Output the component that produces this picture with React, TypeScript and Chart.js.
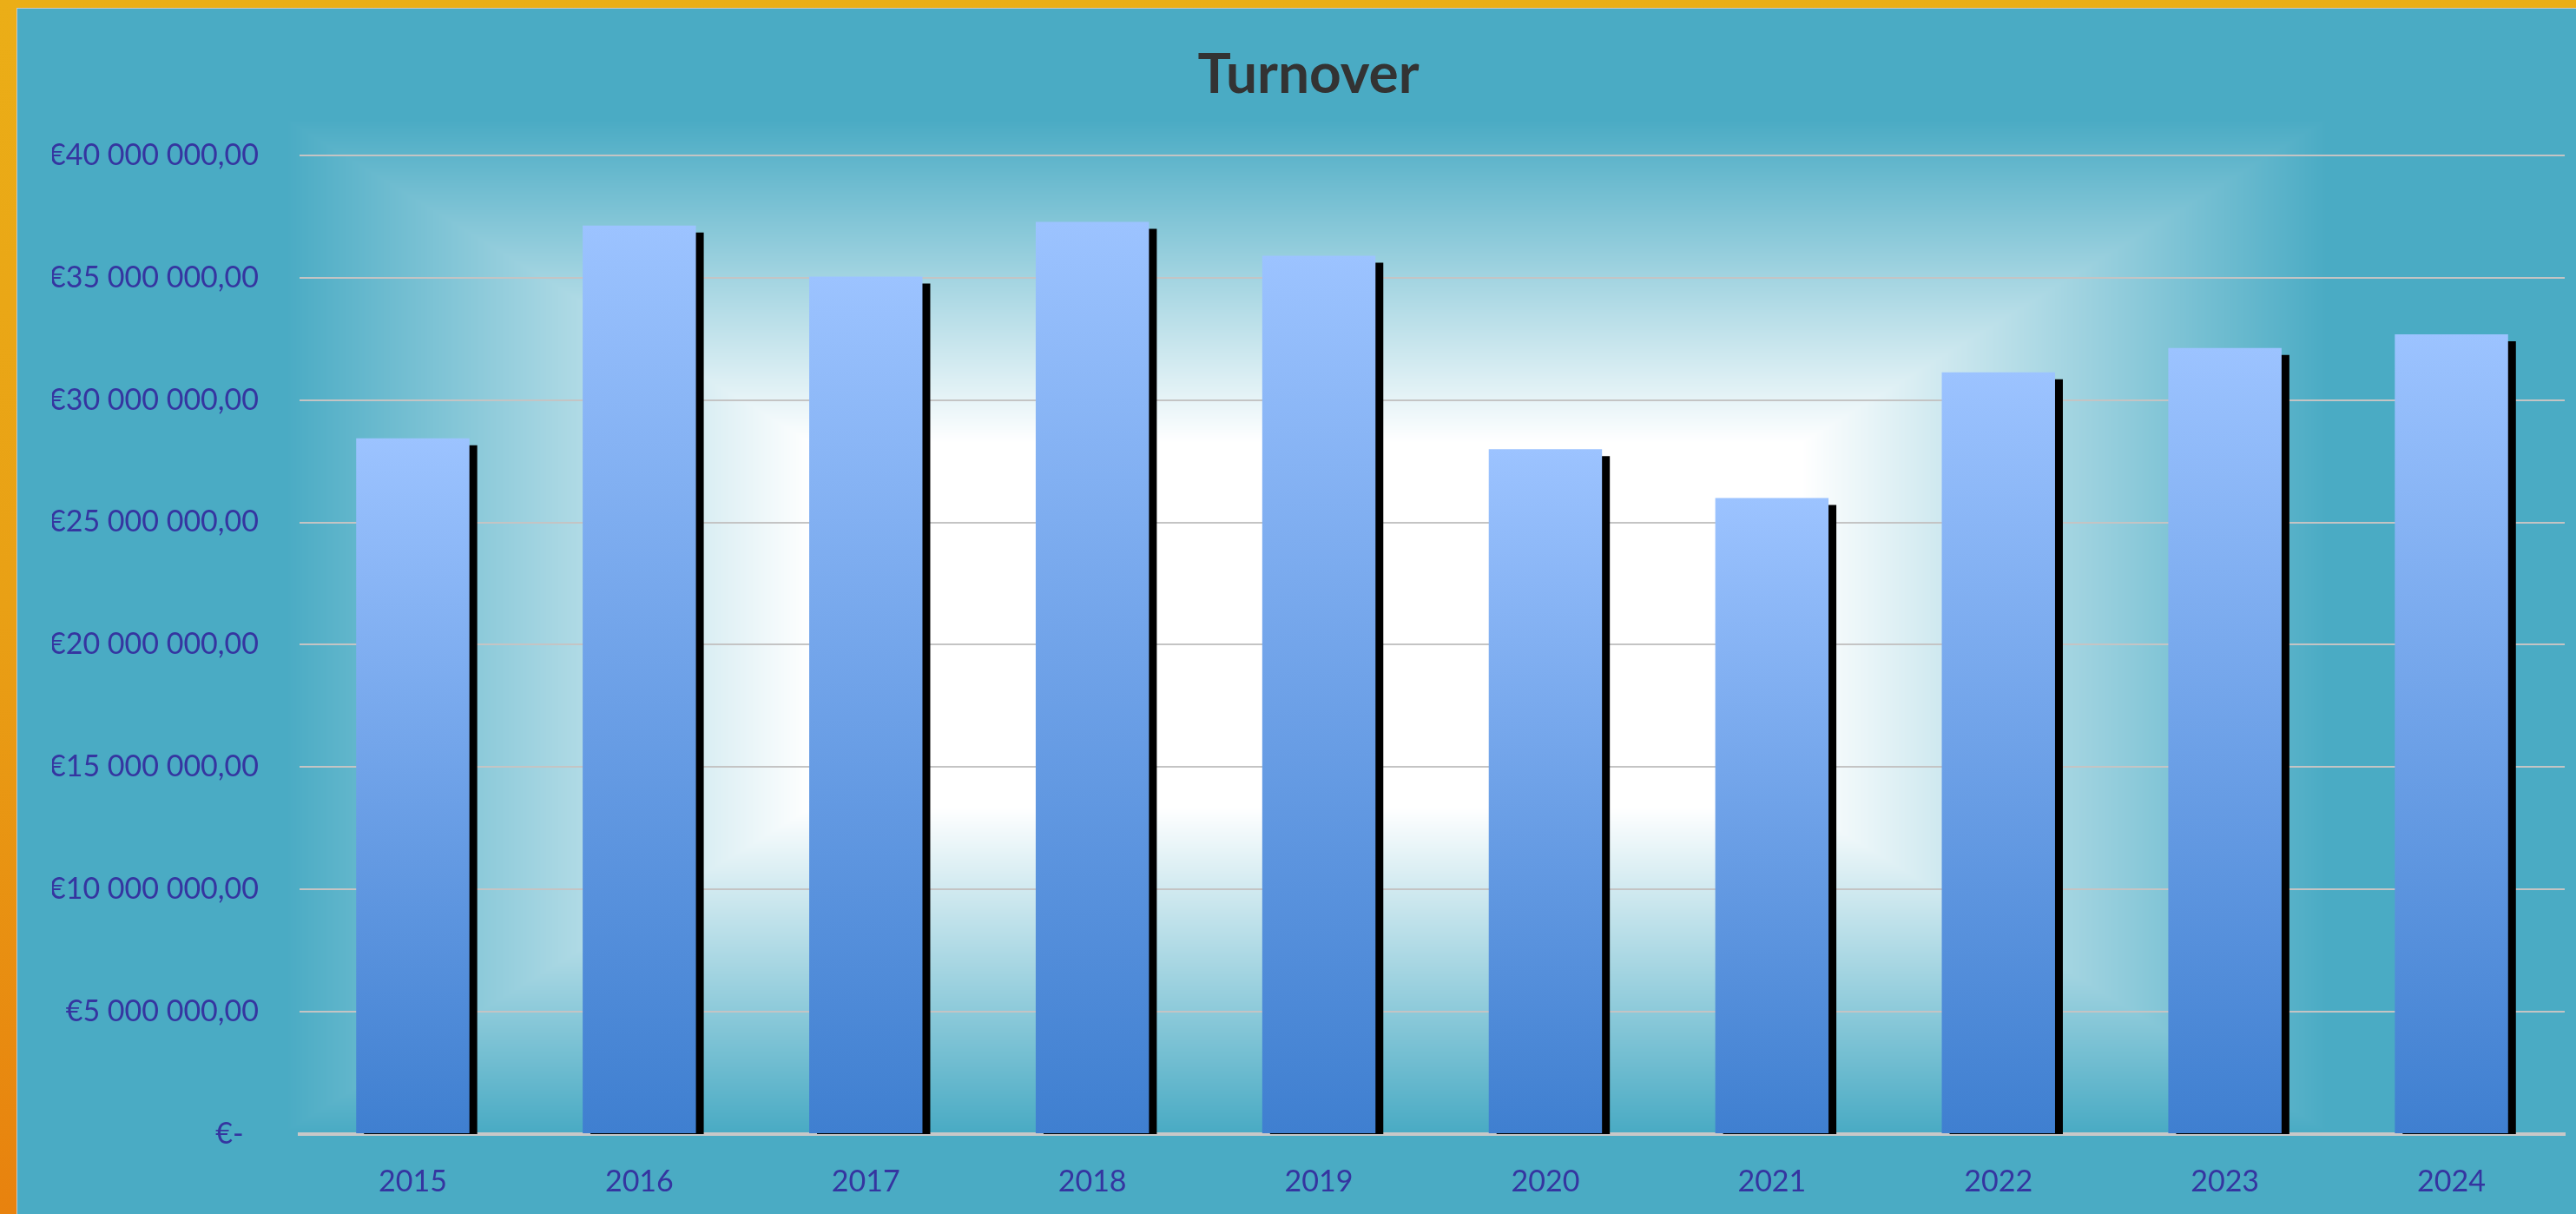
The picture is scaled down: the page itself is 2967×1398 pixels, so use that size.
import React, { useEffect, useRef } from 'react';
import { Chart, registerables } from 'chart.js';

Chart.register(...registerables);

// ---- data ----
const years = ['2015', '2016', '2017', '2018', '2019', '2020', '2021', '2022', '2023', '2024'];
const turnover = [28430000, 37130000, 35040000, 37280000, 35890000, 27990000, 25990000, 31130000, 32120000, 32680000];
const yMin = 0;
const yMax = 40000000;
const yStep = 5000000;
const chartTitle = 'Turnover';

// ---- style ----
const W = 2947;
const H = 1388;
const TEAL = [74, 171, 196];
const LABEL_COLOR = '#3535A0';
const FONT = 'Lato';

function formatEuro(v: number): string {
  if (v === 0) return '€-  ';
  const s = Math.round(v).toString().replace(/\B(?=(\d{3})+(?!\d))/g, ' ');
  return '€' + s + ',00';
}

function makeBackdrop(): HTMLCanvasElement {
  const L = 310, T = 128, w = 2350, h = 1164;
  const cx = 1485, cy = 710, hw = 1175, hh = 582;
  const c = document.createElement('canvas');
  c.width = w;
  c.height = h;
  const cctx = c.getContext('2d')!;
  const img = cctx.createImageData(w, h);
  const d = img.data;
  for (let y = 0; y < h; y++) {
    const dy = Math.abs(T + y + 0.5 - cy) / hh;
    const fv = (1 - dy) / 0.64;
    for (let x = 0; x < w; x++) {
      const dx = Math.abs(L + x + 0.5 - cx) / hw;
      const fh = (1 - dx) / 0.515;
      let f = Math.min(fh, fv);
      f = f < 0 ? 0 : f > 1 ? 1 : f;
      const i = (y * w + x) * 4;
      d[i] = TEAL[0] + (255 - TEAL[0]) * f;
      d[i + 1] = TEAL[1] + (255 - TEAL[1]) * f;
      d[i + 2] = TEAL[2] + (255 - TEAL[2]) * f;
      d[i + 3] = 255;
    }
  }
  cctx.putImageData(img, 0, 0);
  return c;
}

export default function App() {
  const ref = useRef<HTMLCanvasElement | null>(null);

  useEffect(() => {
    let chart: Chart | null = null;
    let cancelled = false;
    const backdrop = makeBackdrop();

    const backdropPlugin = {
      id: 'backdrop',
      beforeDraw(c: any) {
        c.ctx.drawImage(backdrop, 310, 128);
      },
    };
    const shadowPlugin = {
      id: 'barShadow',
      beforeDatasetsDraw(c: any) {
        const ctx = c.ctx;
        ctx.save();
        ctx.shadowColor = '#000000';
        ctx.shadowOffsetX = 9;
        ctx.shadowOffsetY = 8;
        ctx.shadowBlur = 0;
      },
      afterDatasetsDraw(c: any) {
        c.ctx.restore();
      },
    };

    const build = () => {
      if (cancelled || !ref.current) return;
      chart = new Chart(ref.current, {
        type: 'bar',
        data: {
          labels: years,
          datasets: [
            {
              data: turnover,
              clip: 0,
              categoryPercentage: 1,
              barPercentage: 0.5,
              borderWidth: 0,
              backgroundColor: (ctx: any) => {
                const ch = ctx.chart;
                const area = ch.chartArea;
                if (!area || !ch.scales.y) return '#7AA8F0';
                const v = turnover[ctx.dataIndex] ?? 0;
                const top = ch.scales.y.getPixelForValue(v);
                const g = ch.ctx.createLinearGradient(0, top, 0, area.bottom);
                g.addColorStop(0, '#9CC3FF');
                g.addColorStop(1, '#3F7FD0');
                return g;
              },
            } as any,
          ],
        },
        options: {
          animation: false,
          responsive: false,
          layout: { padding: { left: 40, right: 13, top: 0, bottom: 0 } },
          plugins: {
            legend: { display: false },
            tooltip: { enabled: false },
            title: {
              display: true,
              text: chartTitle,
              color: '#333333',
              font: { family: FONT, size: 64, weight: 'bold' },
              padding: { top: 38, bottom: 54 },
            },
          },
          scales: {
            x: {
              z: 1,
              grid: { display: false },
              border: { display: true, color: '#C8C8C8', width: 4 },
              ticks: {
                color: LABEL_COLOR,
                font: { family: FONT, size: 34 },
                padding: 27,
                maxRotation: 0,
              },
              afterFit: (s: any) => {
                s.height = 92;
              },
            },
            y: {
              min: yMin,
              max: yMax,
              grid: { color: '#C4C4C4', lineWidth: 2, drawTicks: false },
              border: { display: false },
              ticks: {
                stepSize: yStep,
                color: LABEL_COLOR,
                font: { family: FONT, size: 34 },
                padding: 47,
                callback: (v: any) => formatEuro(Number(v)),
              },
              afterFit: (s: any) => {
                s.width = 285;
              },
            },
          },
        } as any,
        plugins: [backdropPlugin, shadowPlugin],
      });
    };

    const fontsReady = (document as any).fonts
      ? Promise.all([
          (document as any).fonts.load(`bold 64px ${FONT}`),
          (document as any).fonts.load(`34px ${FONT}`),
        ]).catch(() => null)
      : Promise.resolve(null);
    fontsReady.then(build);

    return () => {
      cancelled = true;
      if (chart) chart.destroy();
    };
  }, []);

  return (
    <div
      style={{
        position: 'absolute',
        left: 0,
        top: 0,
        width: 2967,
        height: 1398,
        background: 'linear-gradient(to bottom, #EBAE17 0%, #E9A015 50%, #E8820E 100%)',
        overflow: 'hidden',
      }}
    >
      <div
        style={{
          position: 'absolute',
          left: 19,
          top: 9,
          width: W + 1,
          height: H + 1,
          boxSizing: 'border-box',
          borderLeft: '1px solid #C8C8C8',
          borderTop: '1px solid #C8C8C8',
          background: `rgb(${TEAL[0]},${TEAL[1]},${TEAL[2]})`,
        }}
      >
        <canvas ref={ref} width={W} height={H} style={{ display: 'block', width: W, height: H }} />
      </div>
    </div>
  );
}
